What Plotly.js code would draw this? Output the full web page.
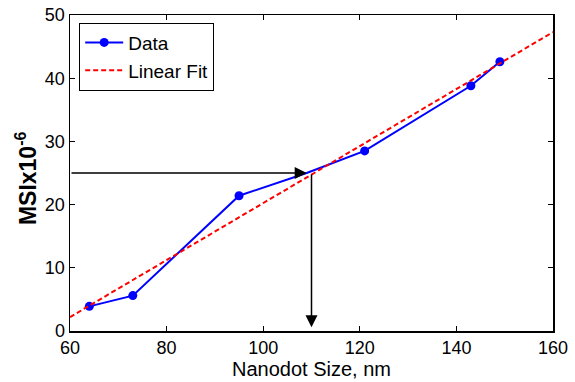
<!DOCTYPE html>
<html>
<head>
<meta charset="utf-8">
<script src="https://cdn.plot.ly/plotly-3.0.1.min.js"></script>
<style>html,body{margin:0;padding:0;background:#fff;}#chart{width:575px;height:382px;}</style>
</head>
<body>
<div id="chart"></div>
<script>
// Data
var sizeNm = [64, 73, 95, 109, 121, 143, 149];
var msi = [3.9, 5.6, 21.4, 25, 28.5, 38.8, 42.6];
var fitX = [60, 160];
var fitY = [2.2, 47.3];
// Read-off guide arrows: horizontal at MSI=25, vertical at 110 nm
var guideY = 25;
var guideX = 110;
var hArrowTipX = 109;
var vArrowTipY = 0.6;
var xTicks = [60, 80, 100, 120, 140, 160];
var yTicks = [0, 10, 20, 30, 40, 50];

var font = "Liberation Sans, Arial, Helvetica, sans-serif";

// the marker at the read-off point is hidden under the arrowhead in the reference
var markerColors = sizeNm.map(function (v, i) { return i === 3 ? 'rgba(0,0,255,0)' : '#0000ff'; });

var traces = [
  {x: sizeNm, y: msi, type: 'scatter', mode: 'lines+markers', name: 'Data',
   line: {color: '#0000ff', width: 2}, marker: {color: markerColors, size: 9}},
  {x: fitX, y: fitY, type: 'scatter', mode: 'lines', name: 'Linear Fit',
   line: {color: '#ff0000', width: 2, dash: '5px,3px'}}
];

var axisCommon = {
  showgrid: false, zeroline: false, showline: true, linecolor: '#000', linewidth: 1.5,
  mirror: 'ticks', ticks: 'inside', ticklen: 5, tickwidth: 1, tickcolor: '#000',
  tickfont: {family: font, size: 18, color: '#000'}
};

var layout = {
  width: 575, height: 382,
  margin: {l: 70, r: 22, t: 15, b: 51},
  paper_bgcolor: '#fff', plot_bgcolor: '#fff',
  font: {family: font, color: '#000'},
  showlegend: true,
  legend: {x: 0.019, y: 0.976, xanchor: 'left', yanchor: 'top',
    bordercolor: '#000', borderwidth: 1, bgcolor: '#fff', itemwidth: 38,
    font: {family: font, size: 19, color: '#000'}, tracegroupgap: 0},
  xaxis: Object.assign({}, axisCommon, {
    range: [60, 160], tickvals: xTicks,
    title: {text: 'Nanodot Size, nm', font: {family: font, size: 20, color: '#000'}, standoff: 4}
  }),
  yaxis: Object.assign({}, axisCommon, {
    range: [0, 50], tickvals: yTicks
  }),
  annotations: [
    {text: '<b>MSIx10<sup>-6</sup></b>', xref: 'paper', yref: 'paper', x: -0.091, y: 0.484,
     xanchor: 'center', yanchor: 'middle', textangle: -90, showarrow: false,
     font: {family: font, size: 23, color: '#000'}},
    {x: hArrowTipX, y: guideY, ax: 60, ay: guideY, xref: 'x', yref: 'y', axref: 'x', ayref: 'y',
     showarrow: true, arrowhead: 2, arrowsize: 1.6, arrowwidth: 1.5, arrowcolor: '#000', standoff: 0, text: ''},
    {x: guideX, y: vArrowTipY, ax: guideX, ay: guideY, xref: 'x', yref: 'y', axref: 'x', ayref: 'y',
     showarrow: true, arrowhead: 2, arrowsize: 1.6, arrowwidth: 1.5, arrowcolor: '#000', standoff: 0, text: ''}
  ]
};

Plotly.newPlot('chart', traces, layout, {displayModeBar: false, staticPlot: true});
</script>
</body>
</html>
